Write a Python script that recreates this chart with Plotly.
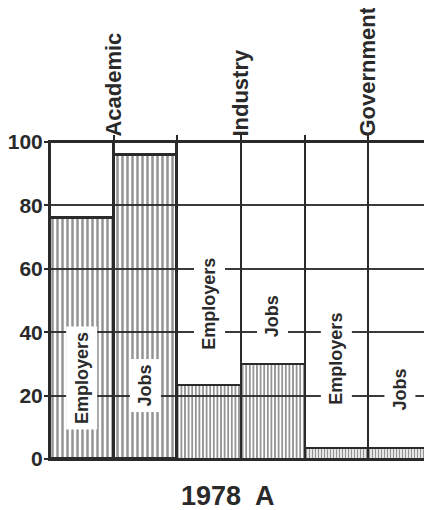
import plotly.graph_objects as go

# ---- data ----
sectors = ["Academic", "Industry", "Government"]
groups = ["Employers", "Jobs"]
employers_pct = [76, 23.5, 3.5]
jobs_pct = [96, 30, 3.5]
y_ticks = [0, 20, 40, 60, 80, 100]
chart_label = "1978  A"

# label placement (value units) for the in-bar text, in bar order
label_y = [25.5, 23, 49, 45, 31.5, 22]

# ---- build bar order ----
values, names, xs = [], [], []
for i, s in enumerate(sectors):
    for j, g in enumerate(groups):
        values.append(employers_pct[i] if g == "Employers" else jobs_pct[i])
        names.append(g)
        xs.append(2 * i + j + 0.5)

dark = "#2a2a2a"
pat_size = [5, 5, 3.6, 3.6, 3, 3]
line_w = [3, 3, 2, 2, 2, 2]

fig = go.Figure()
# outline boxes (full 100%)
fig.add_trace(go.Bar(
    x=xs, y=[100] * len(xs), width=1,
    marker=dict(color="rgba(0,0,0,0)", line=dict(color=dark, width=line_w)),
    hoverinfo="skip", showlegend=False))
# hatched share bars
fig.add_trace(go.Bar(
    x=xs, y=values, width=1,
    marker=dict(color="rgba(0,0,0,0)",
                line=dict(color=dark, width=line_w),
                pattern=dict(shape="|", fgcolor=dark, bgcolor="rgba(0,0,0,0)",
                             size=pat_size, solidity=0.5)),
    showlegend=False))

font_family = "Liberation Sans, Arial, sans-serif"

for x, n, ly in zip(xs, names, label_y):
    fig.add_annotation(x=x, y=ly, text="<b>" + n + "</b>", textangle=-90, showarrow=False,
                       font=dict(family=font_family, size=18, color=dark),
                       bgcolor="white", borderpad=5)

fig.add_annotation(xref="paper", yref="paper", x=0.465, y=-0.117, yanchor="middle",
                   text="<b>" + chart_label + "</b>", showarrow=False,
                   font=dict(family=font_family, size=27, color=dark))

sector_ticks = list(range(1, 7))
sector_text = []
for i, s in enumerate(sectors):
    sector_text += ["<b>" + s + "</b>", ""]

fig.update_layout(
    width=424, height=502,
    margin=dict(l=42, r=0, t=134, b=51),
    paper_bgcolor="white", plot_bgcolor="white",
    barmode="overlay", bargap=0,
    xaxis=dict(range=[0, 6], side="top", tickvals=sector_ticks, ticktext=sector_text,
               tickangle=-90, ticks="outside", ticklen=5, tickcolor=dark, tickwidth=2,
               ticklabelstandoff=-6,
               tickfont=dict(family=font_family, size=22, color=dark),
               showgrid=False, zeroline=False, showline=True, mirror=True,
               linecolor=dark, linewidth=2, automargin=False),
    yaxis=dict(range=[0, 100], tickvals=y_ticks,
               ticktext=["<b>%d</b>" % v for v in y_ticks],
               ticks="outside", ticklen=4, tickcolor=dark, tickwidth=2,
               ticklabelstandoff=-3,
               tickfont=dict(family=font_family, size=21, color=dark),
               showgrid=True, gridcolor="#3a3a3a", gridwidth=1.5, zeroline=False,
               showline=True, mirror=True, linecolor=dark, linewidth=2,
               automargin=False),
)

fig.write_html("out.html")
